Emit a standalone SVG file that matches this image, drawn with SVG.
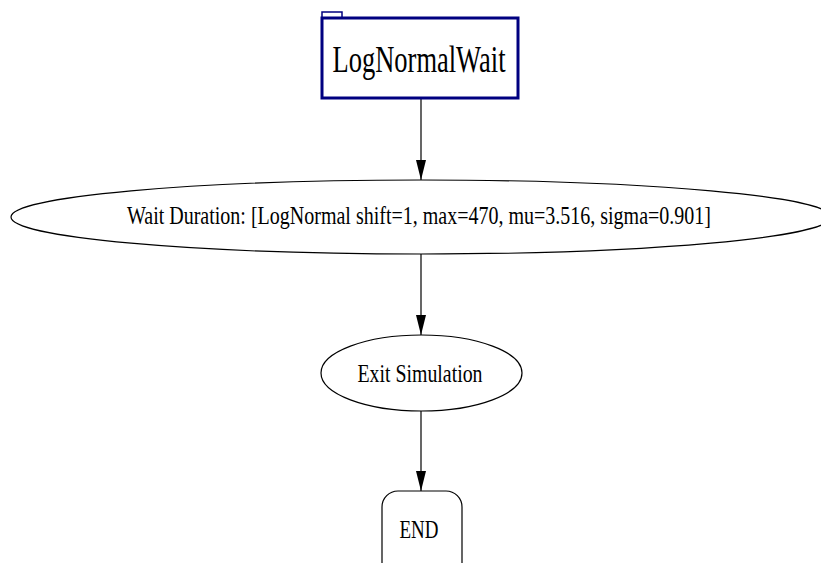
<svg xmlns="http://www.w3.org/2000/svg" width="821" height="563" viewBox="0 0 821 563">
<style>
.lbl{font-family:"Liberation Serif","Times New Roman",serif;fill:#000;text-anchor:middle}
.shape{fill:#fff;stroke:#000;stroke-width:1.2}
.edge{stroke:#000;stroke-width:1.2;fill:none}
</style>
<defs>
<marker id="arr" markerWidth="20" markerHeight="10" refX="20" refY="5" orient="auto" markerUnits="userSpaceOnUse">
<path d="M0,0 L20,5 L0,10 Z" fill="#000"/>
</marker>
</defs>
<rect width="821" height="563" fill="#fff"/>
<g id="connectors">
<line class="edge" x1="421" y1="99" x2="421" y2="180" marker-end="url(#arr)"/>
<line class="edge" x1="421" y1="254" x2="421" y2="335" marker-end="url(#arr)"/>
<line class="edge" x1="421" y1="411" x2="421" y2="491" marker-end="url(#arr)"/>
</g>
<g id="node-lognormalwait">
<rect x="322" y="12" width="20" height="6" fill="#fff" stroke="#000080" stroke-width="1.5"/>
<rect x="322" y="18" width="196" height="80" fill="#fff" stroke="#000080" stroke-width="3"/>
<text class="lbl" x="419" y="72" font-size="37" textLength="173" lengthAdjust="spacingAndGlyphs">LogNormalWait</text>
</g>
<g id="node-waitduration">
<ellipse class="shape" cx="421" cy="217" rx="410" ry="37"/>
<text class="lbl" x="419" y="224" font-size="26" textLength="584" lengthAdjust="spacingAndGlyphs">Wait Duration: [LogNormal shift=1, max=470, mu=3.516, sigma=0.901]</text>
</g>
<g id="node-exit">
<ellipse class="shape" cx="421.5" cy="373" rx="100.5" ry="38"/>
<text class="lbl" x="420" y="382" font-size="26" textLength="125" lengthAdjust="spacingAndGlyphs">Exit Simulation</text>
</g>
<g id="node-end">
<rect class="shape" x="382" y="491" width="80" height="100" rx="16" ry="16"/>
<text class="lbl" x="419" y="538" font-size="26" textLength="39" lengthAdjust="spacingAndGlyphs">END</text>
</g>
</svg>
